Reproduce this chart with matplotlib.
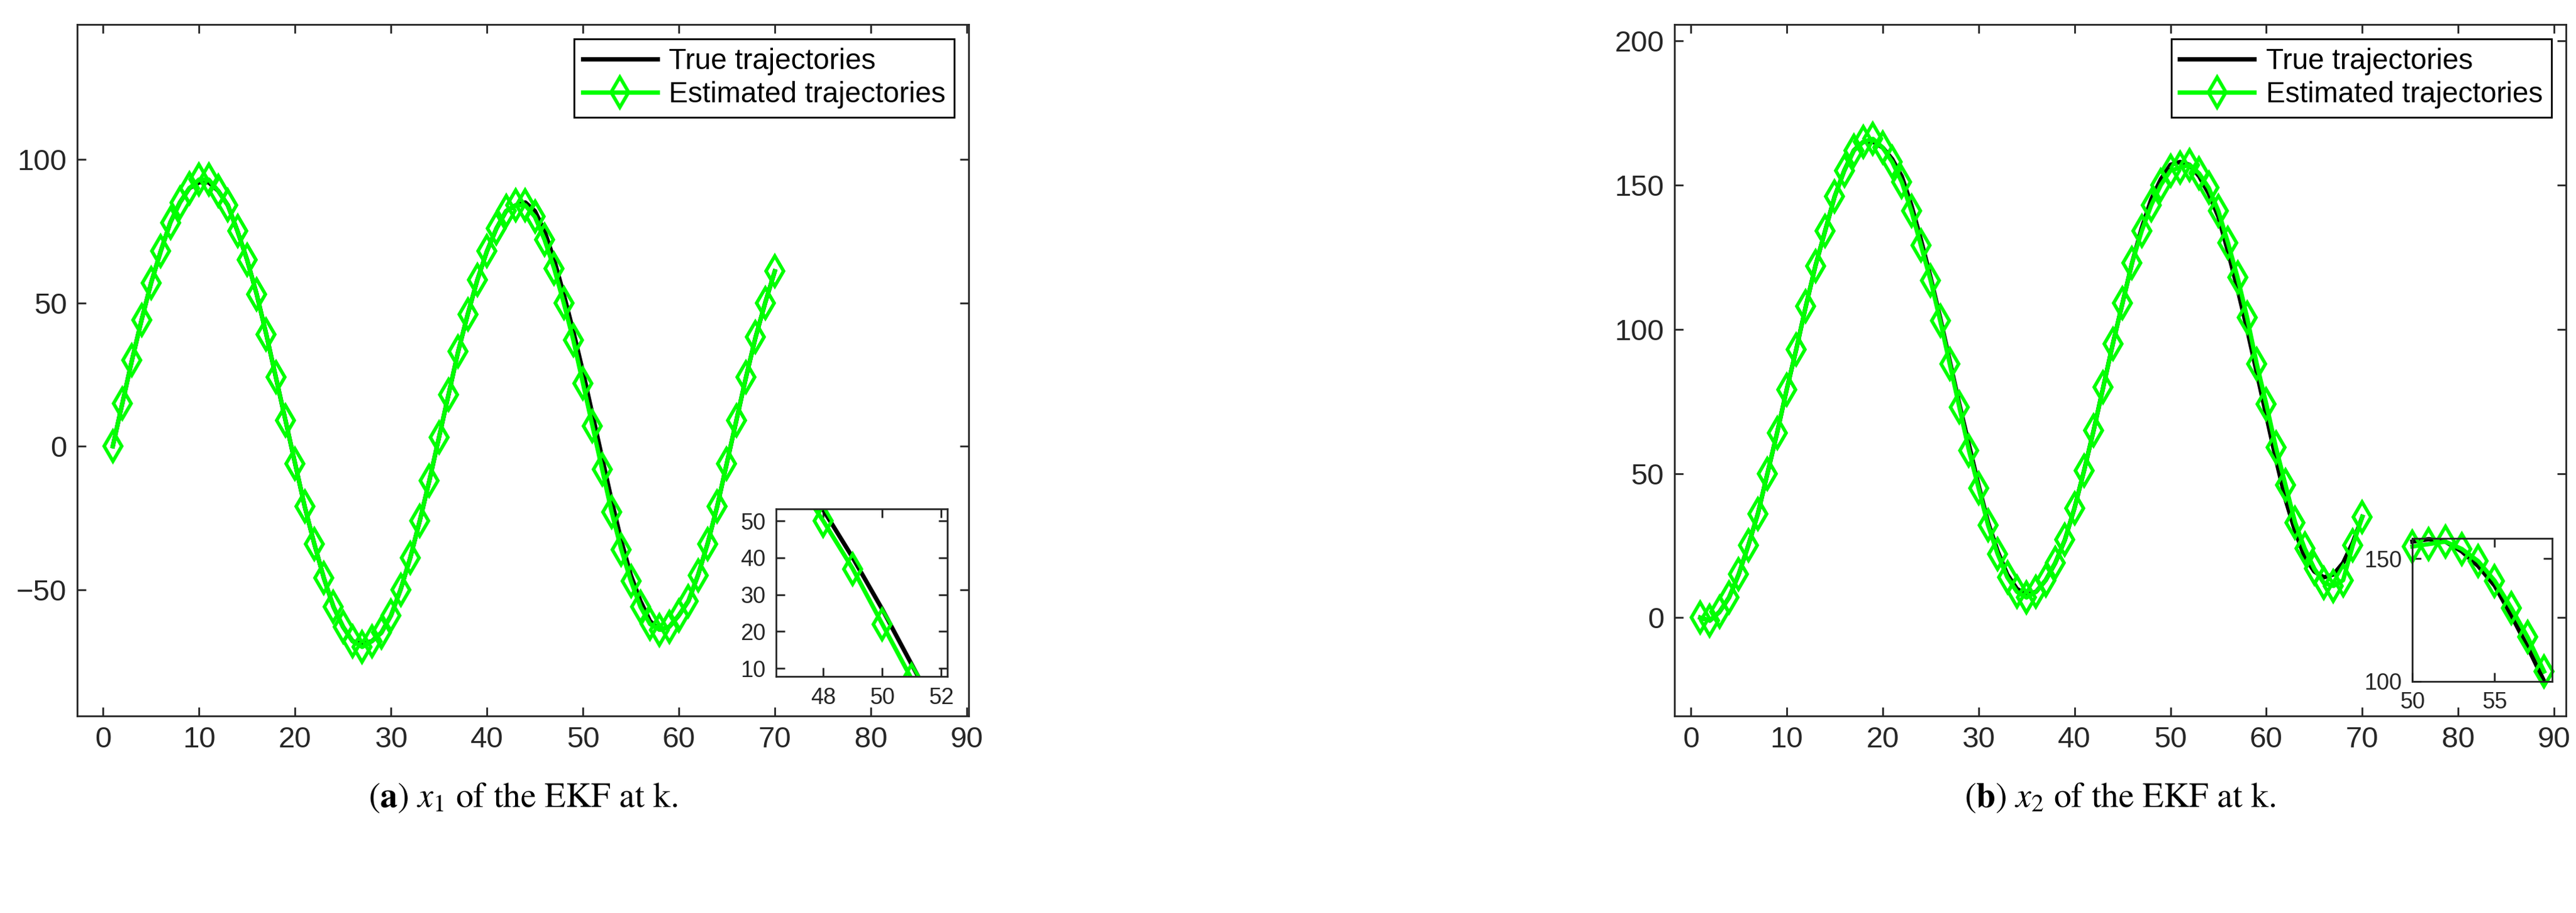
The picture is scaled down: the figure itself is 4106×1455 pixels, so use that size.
import matplotlib
matplotlib.use('Agg')
import matplotlib.pyplot as plt
import numpy as np

plt.rcParams['font.family'] = ['Liberation Sans Narrow', 'Liberation Sans', 'DejaVu Sans']
plt.rcParams['mathtext.fontset'] = 'stix'

# 数据
k = np.arange(1, 71)
x1_est = [0, 15, 30, 44, 57, 68, 78, 85, 90, 93, 93, 89, 84, 75, 65, 53, 39, 24, 9, -6,
          -21, -34, -46, -56, -63, -68, -70, -68, -65, -59, -50, -39, -26, -12, 3, 18, 33, 46, 58, 68,
          76, 82, 84, 84, 80, 72, 62, 50, 37, 22, 7, -8, -23, -36, -47, -56, -62, -64, -63, -59,
          -54, -45, -34, -21, -6, 9, 24, 38, 50, 61]
x1_true = [0, 15, 30, 44, 57, 68, 78, 85, 90, 92, 92, 89, 84, 75, 65, 53, 39, 24, 9, -6,
           -21, -34, -46, -56, -63, -68, -69, -68, -65, -59, -50, -39, -26, -12, 3, 18, 33, 46, 58, 68,
           76, 82, 84, 85, 82, 75, 65, 53, 40, 26, 11, -4, -19, -33, -45, -54, -61, -64, -63, -59,
           -54, -45, -34, -21, -6, 9, 24, 38, 50, 61]
x2_est = [0, -1, 2, 7, 15, 25, 36, 50, 64, 79, 93, 108, 122, 134, 146, 155, 162, 165, 166, 163,
          158, 151, 141, 129, 117, 103, 88, 73, 58, 45, 32, 22, 14, 9, 7, 9, 13, 19, 27, 38,
          51, 65, 80, 95, 109, 123, 134, 143, 150, 155, 156, 157, 154, 149, 141, 130, 118, 104, 88, 74,
          59, 46, 33, 24, 17, 12, 11, 13, 25, 35]
x2_true = [0, -1, 2, 7, 15, 25, 36, 50, 64, 79, 93, 108, 122, 134, 146, 155, 162, 165, 165, 163,
           159, 153, 143, 131, 118, 104, 89, 74, 60, 46, 33, 23, 15, 10, 8, 9, 13, 19, 27, 38,
           51, 65, 80, 95, 109, 123, 135, 145, 152, 157, 158, 157, 153, 147, 139, 127, 114, 100, 85, 70,
           55, 41, 30, 21, 16, 14, 15, 19, 26, 35]

fig = plt.figure(figsize=(41.06, 14.55), dpi=100)
green = '#00ff00'
tick_col = '#262626'


def style(ax, fs=34):
    ax.tick_params(direction='in', top=True, right=True, labelsize=fs, colors=tick_col,
                   length=10, width=2, pad=12)
    for s in ax.spines.values():
        s.set_linewidth(2)
        s.set_color(tick_col)


def draw(ax, x, tru, est, ms=24, clip=True):
    ax.plot(x, tru, color='black', lw=5, label='True trajectories', clip_on=clip)
    ax.plot(x, est, color=green, lw=5, marker='d', ms=ms, mfc='none', mec=green, mew=4,
            label='Estimated trajectories', clip_on=clip)


# 子图 a
ax1 = fig.add_axes([0.030, 0.216, 0.346, 0.757])
draw(ax1, k, x1_true, x1_est)
ax1.set_xlim(-2.7, 90.2)
ax1.set_ylim(-94, 147)
ax1.set_xticks(np.arange(0, 91, 10))
ax1.set_yticks([-50, 0, 50, 100])
style(ax1)
leg = ax1.legend(loc='upper right', fontsize=33, fancybox=False, edgecolor='black',
                 framealpha=1, handlelength=2.6, borderaxespad=0.5, borderpad=0.3,
                 labelspacing=0.2, handletextpad=0.4)
leg.get_frame().set_linewidth(2)

in1 = ax1.inset_axes([0.784, 0.057, 0.192, 0.242])
draw(in1, k, x1_true, x1_est)
in1.set_xlim(46.4, 52.2)
in1.set_ylim(7.8, 53.2)
in1.set_xticks([48, 50, 52])
in1.set_yticks([10, 20, 30, 40, 50])
style(in1, 26)

# 子图 b
ax2 = fig.add_axes([0.650, 0.216, 0.346, 0.757])
draw(ax2, k, x2_true, x2_est)
ax2.set_xlim(-1.7, 91.2)
ax2.set_ylim(-34, 205.6)
ax2.set_xticks(np.arange(0, 91, 10))
ax2.set_yticks([0, 50, 100, 150, 200])
style(ax2)
leg = ax2.legend(loc='upper right', fontsize=33, fancybox=False, edgecolor='black',
                 framealpha=1, handlelength=2.6, borderaxespad=0.5, borderpad=0.3,
                 labelspacing=0.2, handletextpad=0.4)
leg.get_frame().set_linewidth(2)

in2 = ax2.inset_axes([0.828, 0.05, 0.157, 0.207])
sel = slice(49, 58)
draw(in2, k[sel], x2_true[sel], x2_est[sel], clip=False)
in2.set_xlim(50, 58.5)
in2.set_ylim(100, 158.4)
in2.set_xticks([50, 55])
in2.set_yticks([100, 150])
style(in2, 26)

# 标题
fig.text(0.203, 0.126, r'($\mathbf{a}$) $x_1$ of the EKF at k.', ha='center', va='center',
         fontsize=40, family='STIXGeneral')
fig.text(0.823, 0.126, r'($\mathbf{b}$) $x_2$ of the EKF at k.', ha='center', va='center',
         fontsize=40, family='STIXGeneral')

fig.savefig('out.png', dpi=100)
